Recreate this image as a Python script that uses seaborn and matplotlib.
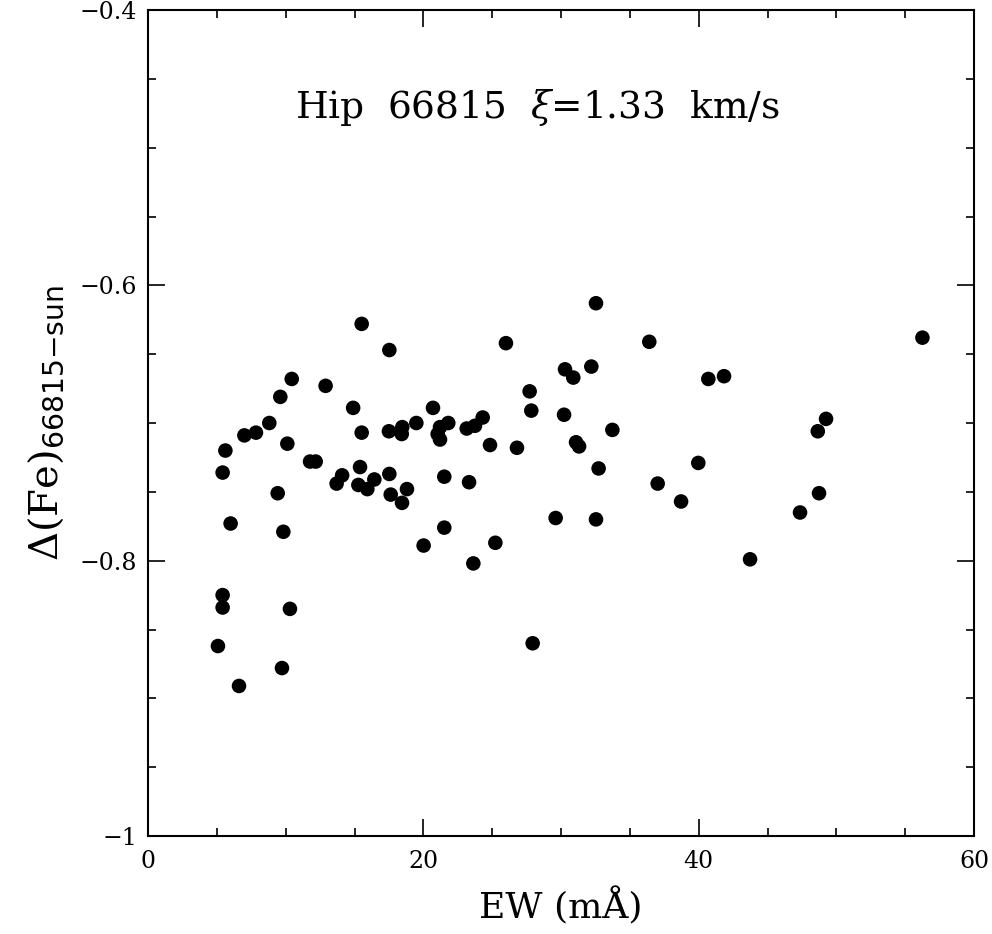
"""
Hip 66815: Delta(Fe) against equivalent width.
"""
import numpy as np
import pandas as pd
import matplotlib
matplotlib.use("Agg")
import matplotlib.pyplot as plt
from matplotlib.ticker import MultipleLocator
import seaborn as sns

# ── Data ──────────────────────────────────────────────────────
EW = [5.08, 5.42, 5.42, 6.61, 9.73, 10.31, 6.00, 5.42, 5.62, 7.00,
      7.84, 8.81, 9.61, 10.44, 9.42, 9.83, 10.12, 12.90, 11.77, 12.18,
      14.90, 15.52, 17.53, 15.52, 17.50, 18.47, 18.43, 19.49, 20.70, 13.70,
      14.10, 15.40, 15.28, 15.93, 16.44, 17.53, 17.63, 18.45, 18.81, 20.02,
      21.21, 21.81, 21.04, 21.21, 21.52, 21.52, 23.15, 23.75, 24.31, 24.84,
      23.32, 23.63, 25.23, 26.00, 26.80, 27.72, 27.84, 27.94, 29.61, 30.22,
      30.29, 30.89, 32.20, 32.54, 31.09, 31.31, 32.73, 32.54, 33.73, 36.41,
      37.02, 38.72, 39.97, 40.70, 41.84, 43.73, 49.25, 48.65, 48.74, 47.36,
      56.25]
DFE = [-0.862, -0.825, -0.834, -0.891, -0.878, -0.835, -0.773, -0.736, -0.720, -0.709,
       -0.707, -0.700, -0.681, -0.668, -0.751, -0.779, -0.715, -0.673, -0.728, -0.728,
       -0.689, -0.628, -0.647, -0.707, -0.706, -0.703, -0.708, -0.700, -0.689, -0.744,
       -0.738, -0.732, -0.745, -0.748, -0.741, -0.737, -0.752, -0.758, -0.748, -0.789,
       -0.703, -0.700, -0.708, -0.712, -0.739, -0.776, -0.704, -0.702, -0.696, -0.716,
       -0.743, -0.802, -0.787, -0.642, -0.718, -0.677, -0.691, -0.860, -0.769, -0.694,
       -0.661, -0.667, -0.659, -0.613, -0.714, -0.717, -0.733, -0.770, -0.705, -0.641,
       -0.744, -0.757, -0.729, -0.668, -0.666, -0.799, -0.697, -0.706, -0.751, -0.765,
       -0.638]

STAR = "66815"
XI = 1.33

df = pd.DataFrame({"ew": EW, "dfe": DFE})

# ── Style ─────────────────────────────────────────────────────
sns.set_style("ticks")
plt.rcParams.update({
    "font.family":       ["DejaVu Serif"],
    "mathtext.fontset":  "dejavuserif",
    "text.color":        "black",
    "axes.labelcolor":   "black",
    "axes.edgecolor":    "black",
    "xtick.color":       "black",
    "ytick.color":       "black",
    "axes.linewidth":    1.5,
    "xtick.direction":   "in",
    "ytick.direction":   "in",
    "xtick.top":         True,
    "ytick.right":       True,
    "xtick.major.size":  12,
    "ytick.major.size":  12,
    "xtick.minor.size":  6,
    "ytick.minor.size":  6,
    "xtick.major.width": 1.2,
    "ytick.major.width": 1.2,
    "xtick.minor.width": 1.2,
    "ytick.minor.width": 1.2,
    "xtick.labelsize":   17,
    "ytick.labelsize":   17,
})

fig = plt.figure(figsize=(9.92, 9.34), dpi=100)
ax = fig.add_axes([0.1492, 0.1049, 0.8327, 0.8844])

sns.scatterplot(data=df, x="ew", y="dfe", ax=ax, color="black",
                s=110, edgecolor="none", legend=False)

ax.set_xlim(0, 60)
ax.set_ylim(-1, -0.4)
ax.xaxis.set_major_locator(MultipleLocator(20))
ax.xaxis.set_minor_locator(MultipleLocator(5))
ax.yaxis.set_minor_locator(MultipleLocator(0.05))
ax.set_yticks([-1, -0.8, -0.6, -0.4])
ax.set_yticklabels(["\u22121", "\u22120.8", "\u22120.6", "\u22120.4"])
ax.tick_params(axis="x", pad=10)
ax.tick_params(axis="y", pad=8)

ax.set_xlabel("EW (mÅ)", fontsize=26, labelpad=10)
ax.set_ylabel(r"$\Delta$(Fe)$_{\mathsf{" + STAR + r"{-}sun}}$", fontsize=29, labelpad=10)

ax.text(28.3, -0.471, f"Hip  {STAR}  $\\xi$=1.33  km/s",
        ha="center", va="center", fontsize=27)

fig.savefig("out.png", dpi=100)
